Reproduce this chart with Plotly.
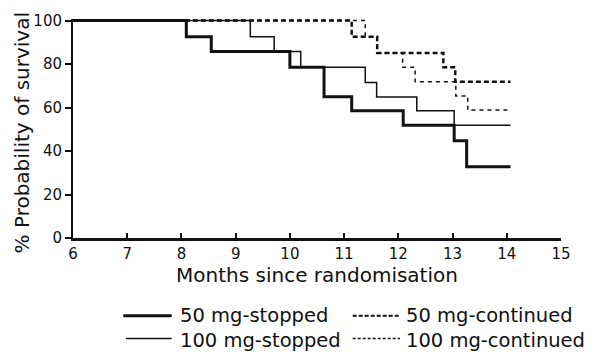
import plotly.graph_objects as go

# Kaplan-Meier step data (months since randomisation, % survival)
months_50_stopped = [6, 8.09, 8.55, 10.0, 10.63, 11.14, 12.09, 13.03, 13.26, 14.07]
surv_50_stopped = [100, 92.5, 85.7, 78.5, 65.0, 58.5, 51.8, 44.7, 32.8, 32.8]

months_100_stopped = [6, 9.27, 9.71, 10.2, 11.39, 11.6, 12.34, 13.03, 14.07]
surv_100_stopped = [100, 92.5, 85.7, 78.5, 71.5, 64.8, 58.5, 51.8, 51.8]

months_50_continued = [6, 11.14, 11.61, 12.83, 13.05, 14.07]
surv_50_continued = [100, 92.5, 85.1, 78.5, 71.9, 71.9]

months_100_continued = [6, 11.39, 11.61, 12.08, 12.31, 13.06, 13.28, 14.07]
surv_100_continued = [100, 92.5, 85.1, 78.5, 71.9, 65.3, 58.8, 58.8]

series_names = ["50 mg-stopped", "100 mg-stopped", "50 mg-continued", "100 mg-continued"]
x_ticks = [6, 7, 8, 9, 10, 11, 12, 13, 14, 15]
y_ticks = [0, 20, 40, 60, 80, 100]

FONT = "DejaVu Sans"
INK = "#111111"

styles = [
    dict(width=3, dash="solid"),
    dict(width=1.5, dash="solid"),
    dict(width=2.5, dash="5px,3px"),
    dict(width=1.5, dash="4px,4px"),
]
data = [
    (months_50_stopped, surv_50_stopped),
    (months_100_stopped, surv_100_stopped),
    (months_50_continued, surv_50_continued),
    (months_100_continued, surv_100_continued),
]

fig = go.Figure()
for (xs, ys), name, st in zip(data, series_names, styles):
    fig.add_trace(go.Scatter(
        x=xs, y=ys, mode="lines", name=name,
        line=dict(color=INK, width=st["width"], dash=st["dash"], shape="hv"),
        showlegend=False, hoverinfo="skip",
    ))

L, R, T, B = 73, 35, 16, 114
W, H = 596, 352
pw, ph = W - L - R, H - T - B

def px(xp):
    return (xp - L) / pw

def py(yp):
    return (H - B - yp) / ph

fig.update_layout(
    width=W, height=H,
    margin=dict(l=L, r=R, t=T, b=B, pad=0),
    paper_bgcolor="white", plot_bgcolor="white",
    font=dict(family=FONT, color=INK, size=15),
    xaxis=dict(
        range=[6, 15], tickvals=x_ticks, ticktext=[str(t) for t in x_ticks],
        ticks="inside", ticklen=5, tickwidth=1.5, tickcolor=INK,
        showline=True, linecolor=INK, linewidth=2.5,
        showgrid=False, zeroline=False,
        tickfont=dict(family=FONT, size=15, color=INK),
        title=dict(text="Months since randomisation",
                   font=dict(family=FONT, size=20, color=INK), standoff=2),
    ),
    yaxis=dict(
        range=[0, 100.7], tickvals=y_ticks, ticktext=[str(t) for t in y_ticks],
        ticks="outside", ticklen=6, tickwidth=1.5, tickcolor=INK,
        showline=True, linecolor=INK, linewidth=2,
        showgrid=False, zeroline=False,
        tickfont=dict(family=FONT, size=15, color=INK),
    ),
)

# y-axis title
fig.add_annotation(
    text="% Probability of survival", textangle=-90,
    xref="paper", yref="paper", x=px(22), y=py(132),
    xanchor="center", yanchor="middle", showarrow=False,
    font=dict(family=FONT, size=20, color=INK),
)

# Manual legend (two columns)
legend_rows = [(316.7, 316.5), (340.0, 341.5), (316.7, 316.5), (340.0, 341.5)]
legend_cols = [(123.3, 171.7, 178.3), (126.0, 171.7, 178.3),
               (352.7, 400.0, 404.0), (352.7, 400.0, 404.0)]
legend_styles = [
    dict(width=3, dash="solid"),
    dict(width=1.5, dash="solid"),
    dict(width=2, dash="4px,2px"),
    dict(width=1.5, dash="3px,2px"),
]
for name, (ly, ty), (x0, x1, tx), st in zip(series_names, legend_rows, legend_cols, legend_styles):
    fig.add_shape(type="line", xref="paper", yref="paper",
                  x0=px(x0), x1=px(x1), y0=py(ly), y1=py(ly),
                  line=dict(color=INK, width=st["width"], dash=st["dash"]))
    fig.add_annotation(text=name, xref="paper", yref="paper",
                       x=px(tx), y=py(ty), xanchor="left", yanchor="middle",
                       showarrow=False,
                       font=dict(family=FONT, size=19.5, color=INK))

fig.write_html("out.html")
